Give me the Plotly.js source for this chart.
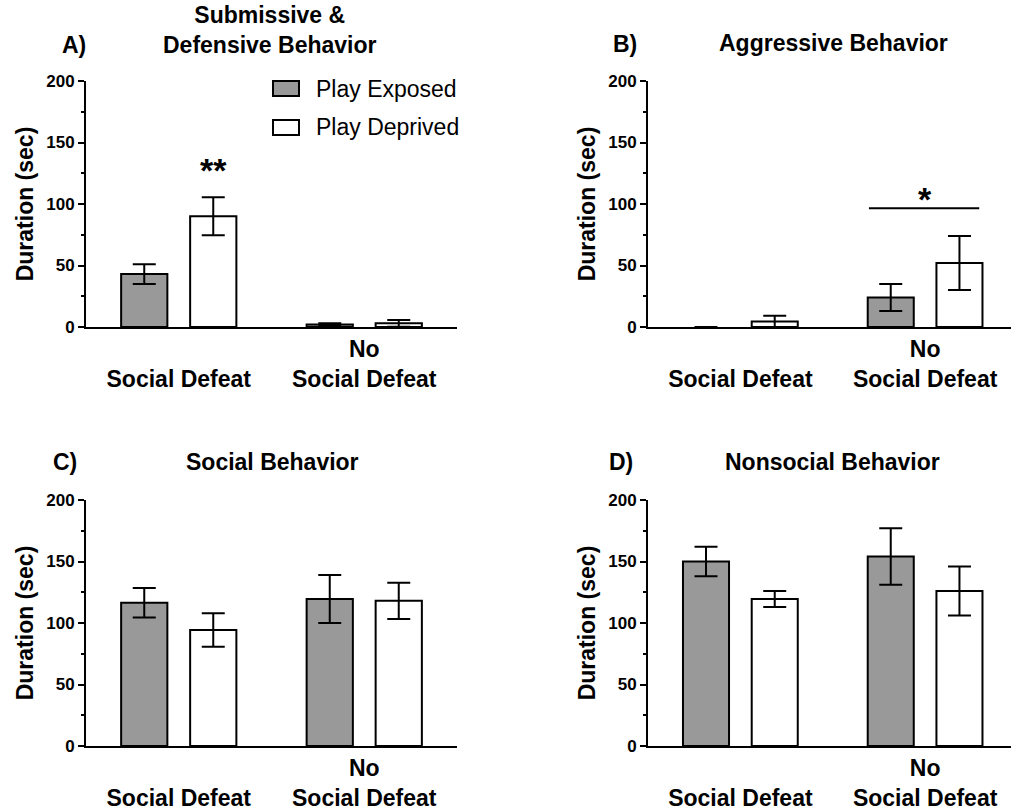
<!DOCTYPE html>
<html>
<head>
<meta charset="utf-8">
<script src="https://cdn.plot.ly/plotly-3.0.1.min.js"></script>
<style>
  html, body { margin: 0; padding: 0; background: #ffffff; }
  #chart { width: 1011px; height: 812px; }
</style>
</head>
<body>
<div id="chart"></div>
<script>
// ---------- data ----------
const seriesNames = ['Play Exposed', 'Play Deprived'];
const categoryPos = [0, 1];
const tickLabels = ['\u00a0<br>Social Defeat', 'No<br>Social Defeat'];
const yTickVals = [0, 50, 100, 150, 200];

const panelLetters = ['A)', 'B)', 'C)', 'D)'];
const panelTitles = ['Submissive &<br>Defensive Behavior', 'Aggressive Behavior', 'Social Behavior', 'Nonsocial Behavior'];
const yTitle = 'Duration (sec)';

// A) Submissive & Defensive
const aExposed = [43, 2];
const aExposedErr = [8, 1];
const aDeprived = [90, 3];
const aDeprivedErr = [15.5, 2.7];
// B) Aggressive
const bExposed = [0, 24];
const bExposedErr = [0, 11];
const bDeprived = [4.5, 52];
const bDeprivedErr = [4.7, 22];
// C) Social
const cExposed = [116.5, 119.5];
const cExposedErr = [12, 19.5];
const cDeprived = [94.3, 118];
const cDeprivedErr = [13.6, 14.7];
// D) Nonsocial
const dExposed = [150, 154];
const dExposedErr = [12, 23];
const dDeprived = [119.5, 126];
const dDeprivedErr = [6.5, 20];

const significance = ['**', '*'];

// ---------- styling ----------
const FONT = 'Liberation Sans, Arial, Helvetica, sans-serif';
const colors = ['#999999', '#ffffff'];
const W = 1011, H = 812;
const px = v => v / W;
const py = v => 1 - v / H;

function barTrace(idx, y, err, xa, ya) {
  // a bar whose value and error are both zero leaves no visible mark in the figure
  const empty = y.map((v, i) => v === 0 && err[i] === 0);
  return {
    type: 'bar',
    name: seriesNames[idx],
    x: categoryPos,
    y: y,
    xaxis: xa, yaxis: ya,
    marker: {
      color: colors[idx],
      opacity: empty.map(e => e ? 0 : 1),
      line: { color: '#000000', width: empty.map(e => e ? 0 : 2) }
    },
    error_y: { type: 'data', array: err.map(e => e === 0 ? null : e), visible: true,
               color: '#000000', thickness: 2, width: 11.5 },
    showlegend: false,
    hoverinfo: 'y'
  };
}

const data = [
  barTrace(0, aExposed, aExposedErr, 'x', 'y'),
  barTrace(1, aDeprived, aDeprivedErr, 'x', 'y'),
  barTrace(0, bExposed, bExposedErr, 'x2', 'y2'),
  barTrace(1, bDeprived, bDeprivedErr, 'x2', 'y2'),
  barTrace(0, cExposed, cExposedErr, 'x3', 'y3'),
  barTrace(1, cDeprived, cDeprivedErr, 'x3', 'y3'),
  barTrace(0, dExposed, dExposedErr, 'x4', 'y4'),
  barTrace(1, dDeprived, dDeprivedErr, 'x4', 'y4')
];

function xAxis(domain, range, anchor) {
  return {
    domain: domain, range: range, anchor: anchor,
    tickvals: categoryPos, ticktext: tickLabels,
    ticks: '', showgrid: false, zeroline: false,
    showline: true, linecolor: '#000000', linewidth: 2,
    tickfont: { family: FONT, size: 23, color: '#000000', weight: 'bold' },
    fixedrange: true
  };
}
function yAxis(domain, anchor) {
  return {
    domain: domain, range: [0, 200], anchor: anchor,
    tickvals: yTickVals,
    ticks: 'outside', ticklen: 6, tickwidth: 2, tickcolor: '#000000',
    minor: { dtick: 25, tick0: 0, ticks: 'outside', ticklen: 3, tickwidth: 2, tickcolor: '#000000', showgrid: false },
    showgrid: false, zeroline: false,
    showline: true, linecolor: '#000000', linewidth: 2,
    tickfont: { family: FONT, size: 17, color: '#000000', weight: 'bold' },
    title: { text: yTitle, font: { family: FONT, size: 23, color: '#000000', weight: 'bold' }, standoff: 6 },
    automargin: false,
    fixedrange: true
  };
}

const xLeft = [px(86), px(457)];
const xRight = [px(648), 1];
const yTop = [py(327), py(81)];
const yBot = [py(746), py(500)];

function ann(text, x, y, size, bold, xanchor) {
  return {
    text: text, xref: 'paper', yref: 'paper', x: x, y: y,
    xanchor: xanchor || 'center', yanchor: 'middle', showarrow: false,
    font: { family: FONT, size: size, color: '#000000', weight: bold ? 'bold' : 'normal' }
  };
}

const annotations = [
  ann(panelTitles[0], px(270), py(30), 23, true),
  ann(panelTitles[1], px(833), py(43), 23, true),
  ann(panelTitles[2], px(272), py(462), 23, true),
  ann(panelTitles[3], px(832), py(462), 23, true),
  ann(panelLetters[0], px(74), py(45), 23, true),
  ann(panelLetters[1], px(625), py(43.5), 23, true),
  ann(panelLetters[2], px(65), py(462), 23, true),
  ann(panelLetters[3], px(621), py(462), 23, true),
  // legend text
  ann(seriesNames[0], px(314), py(88.5), 23, false, 'left'),
  ann(seriesNames[1], px(314), py(127), 23, false, 'left'),
  // significance marks
  { text: significance[0], xref: 'x', yref: 'y', x: 0.185, y: 128, showarrow: false,
    xanchor: 'center', yanchor: 'middle', font: { family: FONT, size: 34, color: '#000000', weight: 'bold' } },
  { text: significance[1], xref: 'x2', yref: 'y2', x: 1.0, y: 104, showarrow: false,
    xanchor: 'center', yanchor: 'middle', font: { family: FONT, size: 34, color: '#000000', weight: 'bold' } }
];

const shapes = [
  // legend boxes
  { type: 'rect', xref: 'paper', yref: 'paper', x0: px(273), x1: px(299), y0: py(81), y1: py(96),
    fillcolor: colors[0], line: { color: '#000000', width: 2 } },
  { type: 'rect', xref: 'paper', yref: 'paper', x0: px(273), x1: px(299), y0: py(120), y1: py(135),
    fillcolor: colors[1], line: { color: '#000000', width: 2 } },
  // significance bar in B
  { type: 'line', xref: 'x2', yref: 'y2', x0: 0.696, x1: 1.293, y0: 96.6, y1: 96.6,
    line: { color: '#000000', width: 2 } }
];

const layout = {
  width: W, height: H,
  margin: { l: 0, r: 0, t: 0, b: 0 },
  paper_bgcolor: '#ffffff', plot_bgcolor: '#ffffff',
  font: { family: FONT, color: '#000000' },
  barmode: 'group', bargap: 0.256, bargroupgap: 0.33,
  showlegend: false,
  xaxis: xAxis(xLeft, [-0.5, 1.5], 'y'),
  yaxis: yAxis(yTop, 'x'),
  xaxis2: xAxis(xRight, [-0.5, 1.465], 'y2'),
  yaxis2: yAxis(yTop, 'x2'),
  xaxis3: xAxis(xLeft, [-0.5, 1.5], 'y3'),
  yaxis3: yAxis(yBot, 'x3'),
  xaxis4: xAxis(xRight, [-0.5, 1.465], 'y4'),
  yaxis4: yAxis(yBot, 'x4'),
  annotations: annotations,
  shapes: shapes
};

Plotly.newPlot('chart', data, layout, { displayModeBar: false, staticPlot: true });
</script>
</body>
</html>
